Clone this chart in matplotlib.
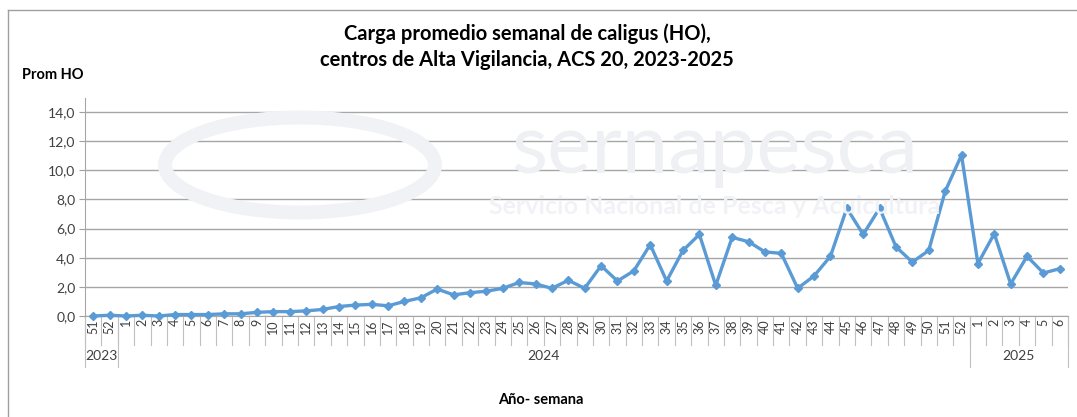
import matplotlib.pyplot as plt
from matplotlib.patches import Ellipse
from matplotlib.transforms import blended_transform_factory
import numpy as np

plt.rcParams['font.family'] = ['Lato', 'DejaVu Sans']

# datos: semana y carga promedio
semanas = ["51", "52"] + [str(i) for i in range(1, 53)] + [str(i) for i in range(1, 7)]
anios = ["2023", "2024", "2025"]
semanas_por_anio = [2, 52, 6]
prom_ho = [0.0, 0.05, 0.0, 0.05, 0.0, 0.1, 0.1, 0.1, 0.15, 0.15,
           0.25, 0.3, 0.3, 0.35, 0.45, 0.65, 0.75, 0.8, 0.7, 1.0,
           1.25, 1.85, 1.45, 1.6, 1.7, 1.9, 2.3, 2.2, 1.9, 2.45,
           1.9, 3.45, 2.4, 3.1, 4.9, 2.4, 4.5, 5.6, 2.1, 5.4,
           5.1, 4.4, 4.3, 1.9, 2.75, 4.1, 7.4, 5.6, 7.4, 4.75,
           3.7, 4.5, 8.55, 11.05, 3.6, 5.65, 2.2, 4.1, 2.95, 3.25]

W, H = 1077, 417
fig = plt.figure(figsize=(W / 100, H / 100), dpi=100)
ax = fig.add_axes([85 / W, 1 - 316 / H, (1068 - 85) / W, (316 - 97.5) / H])
ax.patch.set_alpha(0)

# marca de agua (aprox.)
fig.text(715 / W, 1 - 150 / H, "sernapesca", fontsize=60, color='#eef0f4', ha='center', va='center', zorder=0)
fig.text(715 / W, 1 - 207 / H, "Servicio Nacional de Pesca y Acuicultura", fontsize=18, fontweight='bold',
         color='#f1f2f5', ha='center', va='center', zorder=0)
fig.patches.append(Ellipse((300 / W, 1 - 165 / H), 270 / W, 95 / H, fill=False, lw=10,
                           ec='#f1f2f5', transform=fig.transFigure, zorder=0))

n = len(prom_ho)
x = np.arange(n)
ax.plot(x, prom_ho, color='#5B9BD5', lw=2.4, marker='D', ms=4.5, zorder=3, clip_on=False)

ax.set_xlim(-0.5, n - 0.5)
ax.set_ylim(0, 15)
ax.set_yticks(np.arange(0, 15, 2))
ax.set_yticklabels([f"{v:.1f}".replace('.', ',') for v in np.arange(0, 15, 2)], fontsize=10, color='#404040')
ax.tick_params(axis='y', length=4, color='#a0a0a0', pad=3)
ax.grid(axis='y', color='#a6a6a6', lw=1)
for s in ['top', 'right']:
    ax.spines[s].set_visible(False)
ax.spines['left'].set_color('#a6a6a6')
ax.spines['bottom'].set_color('#a6a6a6')
ax.set_xticks([])

# ejes de categorias en dos niveles
tr = blended_transform_factory(ax.transData, fig.transFigure)
y0 = 1 - 316 / H
y1 = 1 - 345 / H
y2 = 1 - 367 / H
for i in range(n + 1):
    ax.plot([i - 0.5, i - 0.5], [y0, y1], color='#c0c0c0', lw=0.8, transform=tr, clip_on=False)
for i, s in enumerate(semanas):
    ax.text(i, 1 - 319 / H, s, rotation=90, ha='center', va='top', fontsize=9, color='#404040', transform=tr)
inicio = 0
for a, k in zip(anios, semanas_por_anio):
    ax.plot([inicio - 0.5, inicio - 0.5], [y0, y2], color='#c0c0c0', lw=0.8, transform=tr, clip_on=False)
    ax.text(inicio + (k - 1) / 2, 1 - 356 / H, a, ha='center', va='center', fontsize=10, color='#404040',
            transform=tr)
    inicio += k
ax.plot([n - 0.5, n - 0.5], [y0, y2], color='#c0c0c0', lw=0.8, transform=tr, clip_on=False)

fig.text(527 / W, 1 - 47 / H, "Carga promedio semanal de caligus (HO),\ncentros de Alta Vigilancia, ACS 20, 2023-2025",
         ha='center', va='center', fontsize=14.5, fontweight='bold', linespacing=1.35)
fig.text(22 / W, 1 - 75 / H, "Prom HO", ha='left', va='center', fontsize=10.5, fontweight='bold')
fig.text(541 / W, 1 - 400 / H, "Año- semana", ha='center', va='center', fontsize=10.5, fontweight='bold')

# borde
fig.add_artist(plt.Line2D([8 / W, 8 / W], [0, 1 - 10 / H], color='#a0a0a0', lw=1))
fig.add_artist(plt.Line2D([8 / W, 1], [1 - 10 / H, 1 - 10 / H], color='#a0a0a0', lw=1))

fig.savefig("out.png", dpi=100)
